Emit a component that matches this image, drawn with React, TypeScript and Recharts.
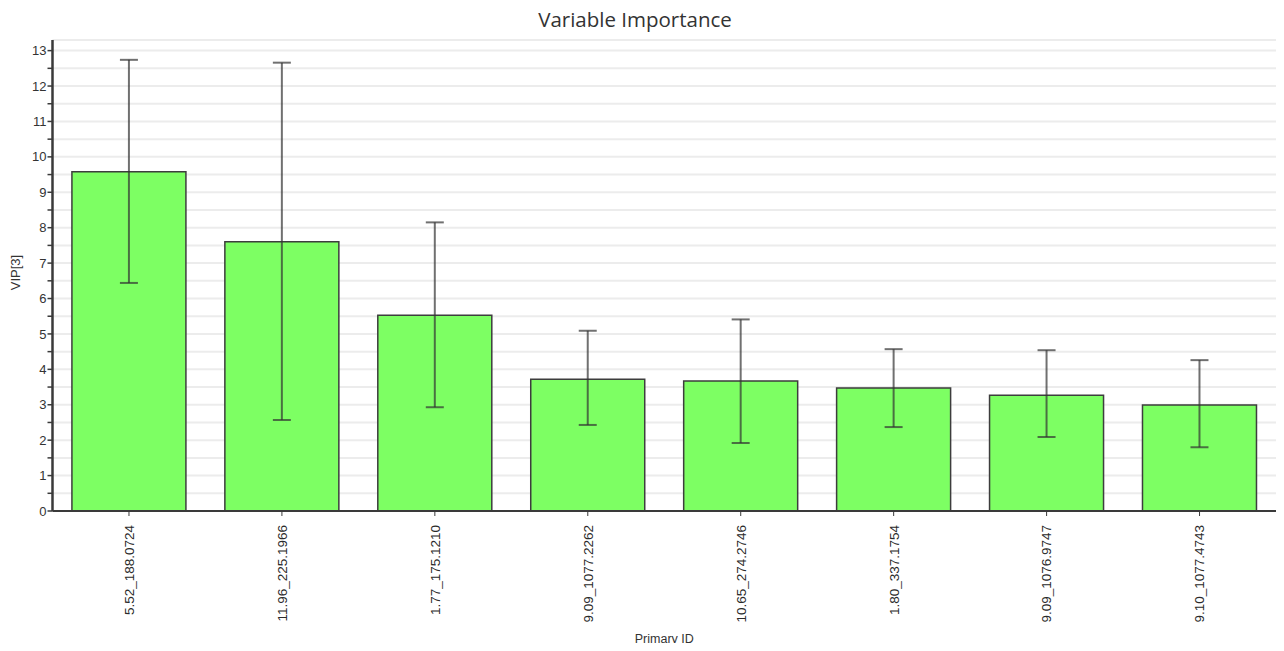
import React from "react";
import {
  BarChart,
  Bar,
  XAxis,
  YAxis,
  CartesianGrid,
  ErrorBar,
  Label,
} from "recharts";

const primaryIds = [
  "5.52_188.0724",
  "11.96_225.1966",
  "1.77_175.1210",
  "9.09_1077.2262",
  "10.65_274.2746",
  "1.80_337.1754",
  "9.09_1076.9747",
  "9.10_1077.4743",
];
const vip = [9.58, 7.6, 5.53, 3.72, 3.67, 3.47, 3.27, 2.99];
const vipLow = [6.44, 2.57, 2.93, 2.43, 1.92, 2.37, 2.09, 1.8];
const vipHigh = [12.74, 12.66, 8.15, 5.09, 5.41, 4.57, 4.54, 4.26];
const yTicks = [
  0, 0.5, 1, 1.5, 2, 2.5, 3, 3.5, 4, 4.5, 5, 5.5, 6, 6.5, 7, 7.5, 8, 8.5, 9, 9.5,
  10, 10.5, 11, 11.5, 12, 12.5, 13,
];

const FONT = "'Liberation Sans', Arial, sans-serif";
const BAR_FILL = "#7dff63";
const AXIS = "#3a3a3a";

const data = primaryIds.map((id, i) => ({
  id,
  vip: vip[i],
  err: [vip[i] - vipLow[i], vipHigh[i] - vip[i]],
}));

// rotated category labels, reading bottom to top, hanging under the axis
const IdTick = ({ x, y, payload }: any) => (
  <text
    transform={`translate(${x},${y + 7}) rotate(-90)`}
    textAnchor="end"
    dy="0.36em"
    fontSize={13.5}
    fontFamily={FONT}
    fill="#2a2a2a"
  >
    {payload.value}
  </text>
);

const VipLabel = ({ viewBox }: any) => {
  const cy = viewBox.y + viewBox.height / 2;
  return (
    <text
      transform={`translate(${viewBox.x + 15},${cy - 3}) rotate(-90)`}
      textAnchor="middle"
      dy="0.35em"
      fontSize={13}
      fontFamily={FONT}
      fill="#333"
    >
      VIP[3]
    </text>
  );
};

const IdAxisLabel = ({ viewBox }: any) => (
  <text
    x={viewBox.x + viewBox.width / 2}
    y={viewBox.y + 128}
    textAnchor="middle"
    dy="0.35em"
    fontSize={12.5}
    fontFamily={FONT}
    fill="#333"
  >
    Primary ID
  </text>
);

export default function App() {
  return (
    <div style={{ position: "relative", width: 1284, height: 651, margin: -8, background: "#fff" }}>
      <div
        style={{
          position: "absolute",
          top: 5,
          left: 0,
          width: 1270,
          textAlign: "center",
          fontFamily: "'Open Sans', sans-serif",
          fontSize: 20.5,
          lineHeight: "28px",
          color: "#333",
        }}
      >
        Variable Importance
      </div>
      <BarChart
        width={1284}
        height={651}
        data={data}
        margin={{ top: 40, right: 8, bottom: 0, left: 0 }}
        barCategoryGap="12.7%"
      >
        <CartesianGrid stroke="#ececec" strokeWidth={2} vertical={false} />
        <XAxis
          dataKey="id"
          interval={0}
          height={140}
          tick={<IdTick />}
          tickSize={5}
          tickLine={{ stroke: AXIS }}
          axisLine={{ stroke: AXIS, strokeWidth: 2 }}
        >
          <Label content={<IdAxisLabel />} />
        </XAxis>
        <YAxis
          width={52.5}
          domain={[0, 13.3]}
          allowDataOverflow
          ticks={yTicks}
          interval={0}
          tickFormatter={(v: number) => (Number.isInteger(v) ? String(v) : "")}
          tick={{ fontSize: 13, fontFamily: FONT, fill: "#333" }}
          tickSize={5}
          tickMargin={1}
          tickLine={{ stroke: AXIS, strokeWidth: 1.5 }}
          axisLine={{ stroke: AXIS, strokeWidth: 2.5 }}
        >
          <Label content={<VipLabel />} />
        </YAxis>
        <Bar dataKey="vip" fill={BAR_FILL} stroke="#3d3d3d" strokeWidth={1.5} isAnimationActive={false}>
          <ErrorBar
            dataKey="err"
            direction="y"
            width={9}
            stroke="#333"
            strokeOpacity={0.7}
            strokeWidth={2}
            isAnimationActive={false}
          />
        </Bar>
      </BarChart>
    </div>
  );
}
